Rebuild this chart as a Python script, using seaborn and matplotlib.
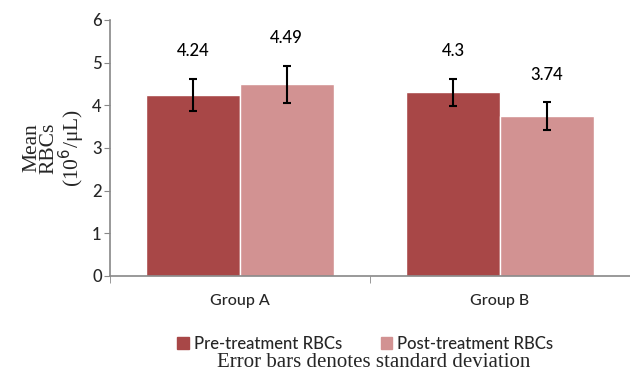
import numpy as np
import pandas as pd
import matplotlib
matplotlib.use("Agg")
import matplotlib.pyplot as plt
import seaborn as sns

# data
groups = ["Group A", "Group B"]
series = ["Pre-treatment RBCs", "Post-treatment RBCs"]
pre_means = [4.24, 4.30]
post_means = [4.49, 3.74]
pre_sd = [0.38, 0.32]
post_sd = [0.44, 0.33]
colors = ["#A84747", "#D29292"]

df = pd.DataFrame({
    "group": groups * 2,
    "series": [series[0]] * 2 + [series[1]] * 2,
    "mean": pre_means + post_means,
    "sd": pre_sd + post_sd,
})

sns.set_style("white")
plt.rcParams["font.family"] = ["Lato", "DejaVu Sans"]

fig = plt.figure(figsize=(6.3, 3.75), dpi=100)
ax = fig.add_axes([0.1746, 0.264, 0.8254, 0.683])

sns.barplot(data=df, x="group", y="mean", hue="series", palette=colors,
            width=0.72, gap=0, errorbar=None, saturation=1, ax=ax, legend=True)

# error bars + value labels
sds = [pre_sd, post_sd]
means = [pre_means, post_means]
for cont, sd, mv in zip(ax.containers, sds, means):
    xs = [p.get_x() + p.get_width() / 2 for p in cont.patches]
    ax.errorbar(xs, mv, yerr=sd, fmt="none", ecolor="black", elinewidth=1.5,
                capsize=3, capthick=1.5, zorder=5)
    for x, m, s in zip(xs, mv, sd):
        ax.annotate(f"{m:g}", (x, m + s), xytext=(0, 14), textcoords="offset points",
                    ha="center", va="bottom", fontsize=12, fontweight="medium", color="black")

ax.set_ylim(0, 6)
ax.set_xlim(-0.5, 1.5)
ax.set_yticks(range(0, 7))
ax.tick_params(axis="y", labelsize=12, length=4, color="#888888", direction="out", left=True, pad=2)
ax.tick_params(axis="x", labelsize=11.5, length=0, pad=13)
ax.set_xticks([-0.5, 0.5, 1.5], minor=True)
ax.tick_params(axis="x", which="minor", length=5, color="#888888", bottom=True)
for lab in ax.get_xticklabels() + ax.get_yticklabels():
    lab.set_fontweight("medium")
ax.set_xlabel("")
ax.set_ylabel("Mean\nRBCs\n(10$^6$/μL)", family="Liberation Serif", fontsize=15.5,
              linespacing=0.9)
ax.yaxis.set_label_coords(-0.045, 0.5)

sns.despine(ax=ax)
for side in ["left", "bottom"]:
    ax.spines[side].set_color("#888888")
    ax.spines[side].set_linewidth(1.2)

ax.get_legend().remove()
handles = [plt.Rectangle((0, 0), 1, 1, color=c) for c in colors]
leg = fig.legend(handles, series, loc="center", bbox_to_anchor=(0.58, 0.083), ncol=2,
                 frameon=False, fontsize=12, handlelength=0.7, handleheight=0.7,
                 handletextpad=0.3, columnspacing=2.3)
for t in leg.get_texts():
    t.set_fontweight("medium")
fig.text(0.593, 0.033, "Error bars denotes standard deviation", ha="center", va="center",
         family="Liberation Serif", fontsize=15)

fig.savefig("out.png", dpi=100)
